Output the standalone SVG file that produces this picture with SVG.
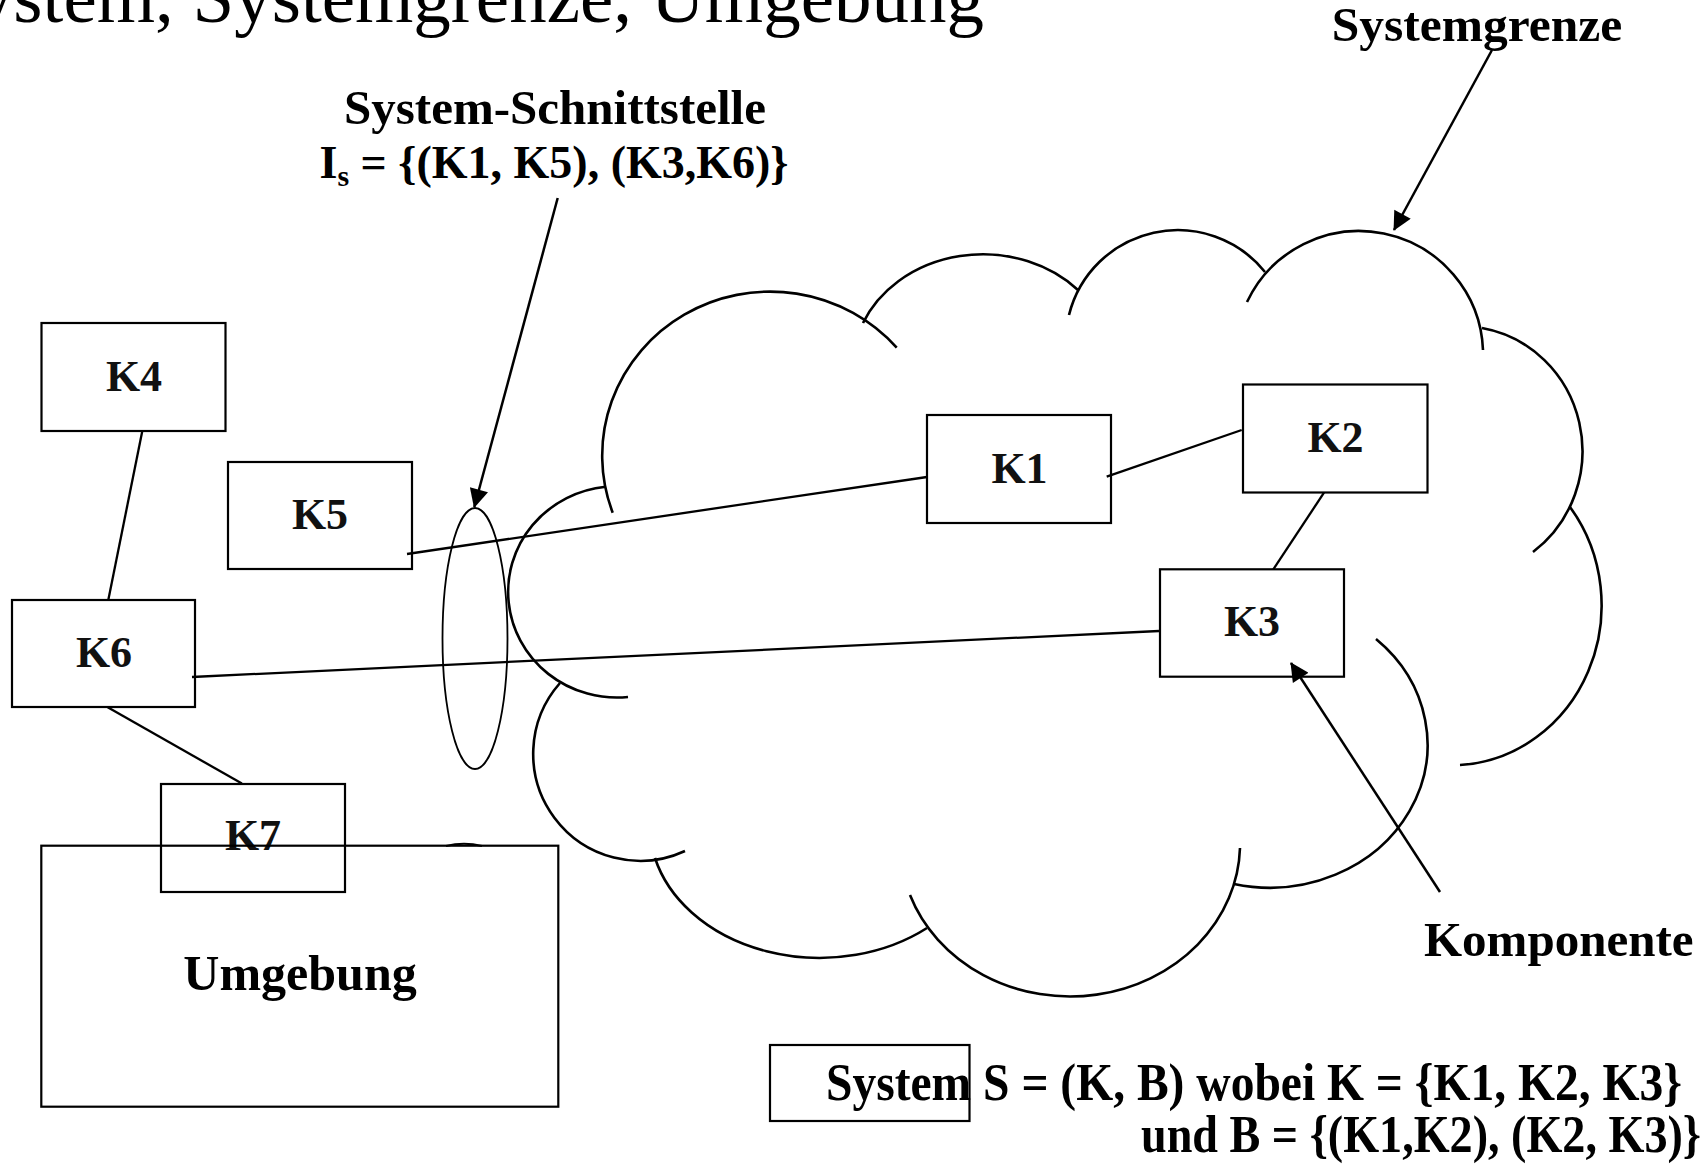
<svg xmlns="http://www.w3.org/2000/svg" width="1708" height="1168" viewBox="0 0 1708 1168">
<defs>
<marker id="ah" viewBox="0 0 10 10" refX="9.5" refY="5" markerWidth="9" markerHeight="7.5" markerUnits="strokeWidth" orient="auto">
<path d="M0,0 L10,5 L0,10 z" fill="#000"/>
</marker>
</defs>
<style>
.box{fill:none;stroke:#000;stroke-width:2.2}
.lbl{font-family:"Liberation Serif",serif;font-weight:bold;font-size:44px;fill:#111;text-anchor:middle}
.cap{font-family:"Liberation Serif",serif;font-weight:bold;fill:#000}
.cl{fill:none;stroke:#000;stroke-width:2.6;stroke-linecap:butt}
.con{fill:none;stroke:#000;stroke-width:2.3}
.arr{fill:none;stroke:#000;stroke-width:2.5;marker-end:url(#ah)}
</style>
<rect width="1708" height="1168" fill="#fff"/>

<text x="984" y="22" font-family="Liberation Serif, serif" font-size="75" text-anchor="end" fill="#000">System, Systemgrenze, Umgebung</text>

<g id="systemgrenze">
<path class="cl" d="M612.7,512.7 A168,164 0 0 1 896.7,347.7"/>
<path class="cl" d="M605.7,486.7 A108,105 0 1 0 628,697"/>
<path class="cl" d="M863,323 A130,112 0 0 1 1078,290"/>
<path class="cl" d="M1069,315 A112,112 0 0 1 1265,272"/>
<path class="cl" d="M1247,302 A124,124 0 0 1 1483,350"/>
<path class="cl" d="M1482,328 A121,125 0 0 1 1533,552"/>
<path class="cl" d="M1570,507 A150,160 0 0 1 1460,765"/>
<path class="cl" d="M1376,639 A158,143 0 0 1 1234,884"/>
<path class="cl" d="M1240,848 A170,153 0 0 1 910,895"/>
<path class="cl" d="M927,928 A170,133 0 0 1 655,858"/>
<path class="cl" d="M685,851 A107,107 0 0 1 560,683"/>
</g>

<g id="schnittstelle">
<ellipse cx="475" cy="638.5" rx="32.5" ry="130.5" fill="none" stroke="#000" stroke-width="1.8"/>
</g>

<g id="connectors">
<line class="con" x1="407" y1="554" x2="927" y2="477"/>
<line class="con" x1="1106.7" y1="476.7" x2="1241.7" y2="430"/>
<line class="con" x1="1324" y1="492.7" x2="1273.3" y2="569.3"/>
<line class="con" x1="192" y1="677" x2="1159" y2="631"/>
<line class="con" x1="142.3" y1="431" x2="108.3" y2="600"/>
<line class="con" x1="107.7" y1="707.3" x2="241.9" y2="783.5"/>
<line class="arr" x1="557.7" y1="198" x2="474.3" y2="507"/>
<line class="arr" x1="1492" y1="50" x2="1394" y2="230"/>
<line class="arr" x1="1440" y1="892" x2="1291" y2="663"/>
</g>

<g id="K4"><rect class="box" x="41.5" y="323" width="184" height="108"/><text class="lbl" x="134" y="391">K4</text></g>
<g id="K5"><rect class="box" x="228" y="462" width="184" height="107"/><text class="lbl" x="320" y="529">K5</text></g>
<g id="K6"><rect class="box" x="12" y="600" width="183" height="107"/><text class="lbl" x="104" y="667">K6</text></g>
<g id="K7"><rect class="box" x="161" y="784" width="184" height="108"/><text class="lbl" x="253" y="850">K7</text></g>
<g id="K1"><rect class="box" x="927" y="415" width="184" height="108"/><text class="lbl" x="1019.5" y="483">K1</text></g>
<g id="K2"><rect class="box" x="1243" y="384.5" width="184.5" height="108"/><text class="lbl" x="1335.5" y="452">K2</text></g>
<g id="K3"><rect class="box" x="1160" y="569.3" width="184" height="107.4"/><text class="lbl" x="1252" y="636">K3</text></g>

<g id="umgebung">
<rect class="box" x="41.3" y="845.7" width="517" height="261"/>
<path d="M446,846 Q464,841.5 482,846" fill="none" stroke="#000" stroke-width="2"/>
<text class="cap" x="300" y="990" font-size="50" text-anchor="middle" fill="#231f20">Umgebung</text>
</g>

<g id="legende">
<rect class="box" x="770" y="1045" width="199.5" height="76"/>
<text class="cap" x="826" y="1100" font-size="52" textLength="856" lengthAdjust="spacingAndGlyphs">System S = (K, B) wobei K = {K1, K2, K3}</text>
<text class="cap" x="1141" y="1152" font-size="52" textLength="560" lengthAdjust="spacingAndGlyphs">und B = {(K1,K2), (K2, K3)}</text>
</g>

<g id="labels">
<text class="cap" x="1477" y="41" font-size="49.5" text-anchor="middle">Systemgrenze</text>
<text class="cap" x="555" y="124" font-size="49" text-anchor="middle">System-Schnittstelle</text>
<text class="cap" x="554" y="178" font-size="46" text-anchor="middle">I<tspan font-size="30" dy="8">s</tspan><tspan dy="-8"> = {(K1, K5), (K3,K6)}</tspan></text>
<text class="cap" x="1424" y="956" font-size="49">Komponente</text>
</g>
</svg>
